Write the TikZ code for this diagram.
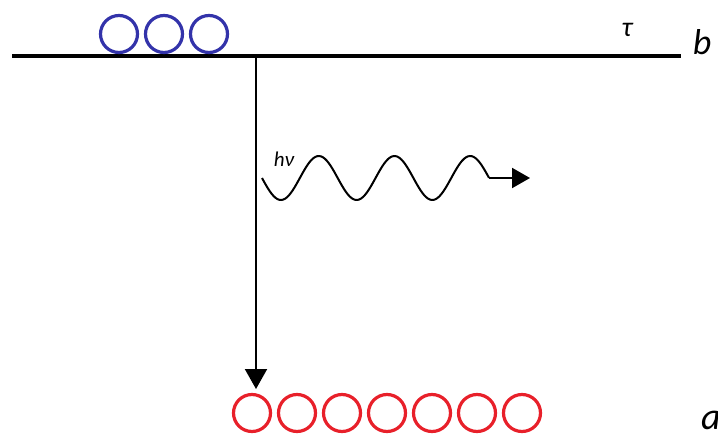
\documentclass[tikz,border=0pt]{standalone}
\usepackage{fontspec}
\setmainfont{Carlito}
\usetikzlibrary{arrows.meta}
\definecolor{lowBlue}{HTML}{3333aa}
\definecolor{upRed}{HTML}{e8202a}

\begin{document}
\begin{tikzpicture}[
      x=1pt, y=-1pt,
      blueatom/.style={circle, draw=lowBlue, line width=3.2pt, minimum size=37pt, inner sep=0pt},
      redatom/.style={circle, draw=upRed, line width=3.2pt, minimum size=37pt, inner sep=0pt},
      lbl/.style={font=\itshape, inner sep=0pt},
      >={Triangle[length=20pt,width=22pt]}
    ]
    \useasboundingbox (0,0) rectangle (718,434);

    % level line b
    \coordinate (lineL) at (12,56);
    \coordinate (lineR) at (681,56);
    \draw[line width=4.5pt] (lineL) -- (lineR);
    \node[lbl, font=\itshape\fontsize{36}{36}\selectfont] (lvlb) at (702,42) {b};
    \node[lbl, font=\itshape\fontsize{28}{28}\selectfont] (tau) at (627,30) {τ};

    % atoms on b
    \foreach \i/\x in {1/119,2/164,3/209}
      \node[blueatom] (b\i) at (\x,34) {};

    % atoms on a
    \foreach \i/\x in {1/252,2/297,3/342,4/387,5/432,6/477,7/522}
      \node[redatom] (a\i) at (\x,413) {};
    \node[lbl, font=\itshape\fontsize{38}{38}\selectfont] (lvla) at (711,420) {a};

    % decay
    \coordinate (top) at (256,56);
    \coordinate (bot) at (256,389);
    \draw[->, line width=2pt] (top) -- (bot);

    % photon
    \coordinate (w0) at (262,178);
    \coordinate (w1) at (489,178);
    \coordinate (wtip) at (530,178);
    \draw[line width=2pt, domain=0:227, samples=120, smooth]
      plot ({262+\x}, {178+22*sin(4.7556*\x)});
    \draw[->, line width=2pt, >={Triangle[length=18pt,width=20pt]}] (w1) -- (wtip);
    \node[lbl, font=\itshape\fontsize{21}{21}\selectfont] (hnu) at (284,159) {hν};
\end{tikzpicture}
\end{document}
